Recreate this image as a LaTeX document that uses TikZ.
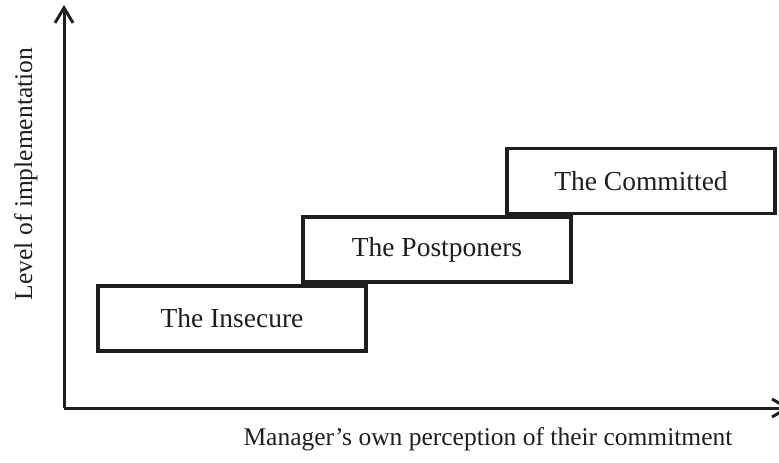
\documentclass[tikz,border=0pt]{standalone}
\usepackage{fontspec}
\setmainfont{Liberation Serif}
\usetikzlibrary{arrows.meta}
\definecolor{ink}{HTML}{1E1E1E}
\tikzset{
  axis/.style={draw=ink, line width=3pt, -{Straight Barb[length=15pt,width=18pt]}},
  group/.style={draw=ink, line width=3.6pt, rectangle, minimum width=268pt, minimum height=65pt,
    inner sep=0pt, font=\fontsize{27.5}{31}\selectfont, text=ink},
  axislabel/.style={font=\fontsize{25.5}{29}\selectfont, text=ink, inner sep=0pt}
}
\begin{document}
\begin{tikzpicture}[x=1pt,y=-1pt]
  \clip (0,0) rectangle (779,463);
  % origin and axis ends
  \coordinate (o) at (64,408);
  \coordinate (ytop) at (64,5);
  \coordinate (xend) at (790,408);
  \draw[axis] (o) -- (ytop);
  \draw[axis] (o) -- (xend);
  % the three groups
  \node[group] (insecure) at (232,318.5) {The Insecure};
  \node[group] (postponers) at (437,249.5) {The Postponers};
  \node[group] (committed) at (641,181) {The Committed};
  % axis labels
  \node[axislabel, rotate=90, anchor=base] (ylab) at (32,174) {Level of implementation};
  \node[axislabel, anchor=base] (xlab) at (488,445) {Manager’s own perception of their commitment};
\end{tikzpicture}
\end{document}
